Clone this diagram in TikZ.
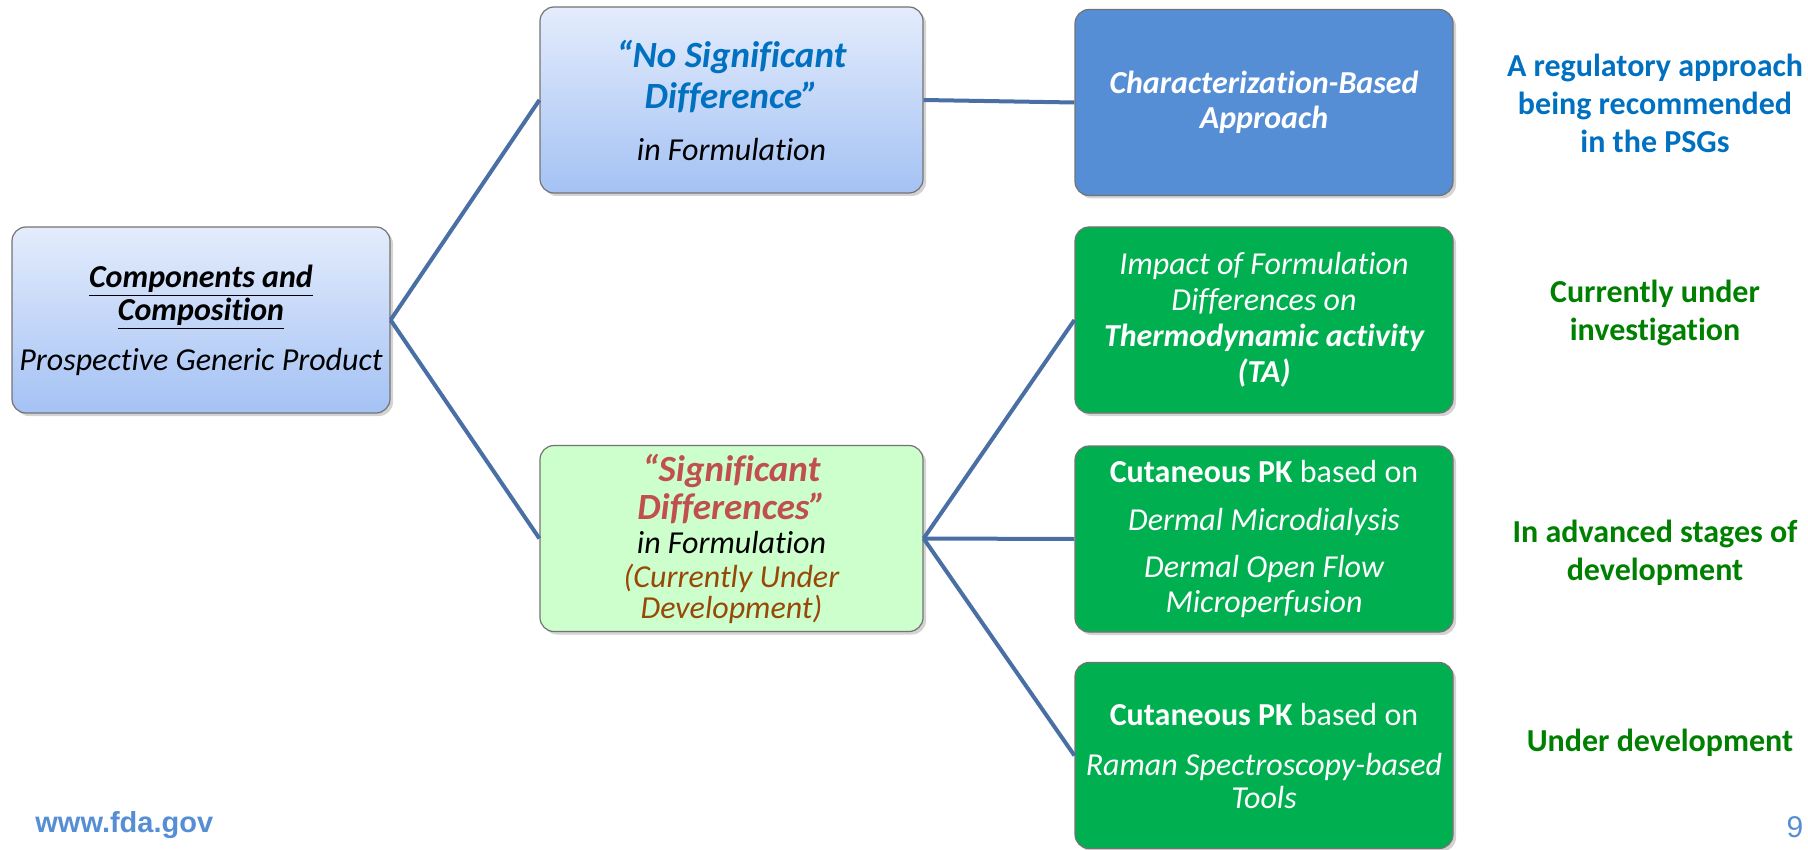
\documentclass[tikz,border=0pt]{standalone}
\usepackage{fontspec}
\setmainfont{Carlito}[Ligatures=CommonOff]
\newfontfamily\webfont{Liberation Sans}
\usetikzlibrary{shadows}
\definecolor{linkblue}{RGB}{74,111,165}
\definecolor{boxtop}{RGB}{228,236,252}
\definecolor{boxbottom}{RGB}{164,194,244}
\definecolor{sigfill}{RGB}{204,255,204}
\definecolor{charfill}{RGB}{85,142,213}
\definecolor{greenfill}{RGB}{0,176,80}
\definecolor{titleblue}{RGB}{0,112,192}
\definecolor{titlered}{RGB}{192,80,77}
\definecolor{brown}{RGB}{152,72,7}
\definecolor{notegreen}{RGB}{0,128,0}
\definecolor{webblue}{RGB}{85,142,213}
\begin{document}
\begin{tikzpicture}[x=0.5pt,y=-0.5pt,
  box/.style={draw=black!55, line width=0.6pt, rounded corners=7pt, minimum width=189pt, minimum height=93pt, align=center, inner sep=2pt,
    drop shadow={shadow xshift=1.5pt, shadow yshift=-1.5pt, opacity=0.35}},
  lightbox/.style={box, top color=boxtop, bottom color=boxbottom},
  midbox/.style={minimum width=191.5pt},
  greenbox/.style={box, fill=greenfill, text=white},
  note/.style={align=center, font=\fontsize{16}{19}\selectfont\bfseries},
  link/.style={draw=linkblue, line width=2pt}]
  \useasboundingbox (0,0) rectangle (1808,850);

  \node[lightbox, font=\fontsize{16}{16.5}\selectfont] (P) at (201,320) {
    {\bfseries\itshape\underline{Components and}}\\
    {\bfseries\itshape\underline{Composition}}\\[8.5pt]
    {\itshape Prospective Generic Product}};

  \node[lightbox, midbox, font=\fontsize{16}{20.5}\selectfont] (N) at (731.5,100) {
    {\fontsize{18.5}{20.5}\selectfont\bfseries\itshape\color{titleblue}“No Significant}\\
    {\fontsize{18.5}{20.5}\selectfont\bfseries\itshape\color{titleblue}Difference”}\\[5.5pt]
    {\itshape in Formulation}};

  \node[box, midbox, fill=sigfill, font=\fontsize{16}{17}\selectfont] (S) at (731.5,538.5) {
    {\fontsize{18.5}{21}\selectfont\bfseries\itshape\color{titlered}“Significant}\\[2pt]
    {\fontsize{18.5}{21}\selectfont\bfseries\itshape\color{titlered}Differences”}\\
    {\itshape in Formulation}\\
    {\itshape\color{brown}(Currently Under}\\[-1.5pt]
    {\itshape\color{brown}Development)}};

  \node[box, fill=charfill, text=white, font=\fontsize{16}{17.5}\selectfont] (CB) at (1264,102.5) {
    {\bfseries\itshape Characterization-Based}\\
    {\bfseries\itshape Approach}};

  \node[greenbox, font=\fontsize{16}{18}\selectfont] (TA) at (1264,320) {
    {\itshape Impact of Formulation}\\
    {\itshape Differences on}\\
    {\bfseries\itshape Thermodynamic activity}\\
    {\bfseries\itshape (TA)}};

  \node[greenbox, font=\fontsize{16}{17.5}\selectfont] (MD) at (1264,539) {
    {\bfseries Cutaneous PK} based on\\[6.5pt]
    {\itshape Dermal Microdialysis}\\[6pt]
    {\itshape Dermal Open Flow}\\
    {\itshape Microperfusion}};

  \node[greenbox, font=\fontsize{16}{16.5}\selectfont] (RS) at (1264,755.5) {
    {\bfseries Cutaneous PK} based on\\[8.5pt]
    {\itshape Raman Spectroscopy-based}\\
    {\itshape Tools}};

  \draw[link] (P.east) -- (N.west);
  \draw[link] (P.east) -- (S.west);
  \draw[link] (N.east) -- (CB.west);
  \draw[link] (S.east) -- (TA.west);
  \draw[link] (S.east) -- (MD.west);
  \draw[link] (S.east) -- (RS.west);

  \node[note, text=titleblue] (L1) at (1655,103) {A regulatory approach\\being recommended\\in the PSGs};
  \node[note, text=notegreen] (L2) at (1655,313) {Currently under\\investigation};
  \node[note, text=notegreen] (L3) at (1655,553) {In advanced stages of\\development};
  \node[note, text=notegreen] (L4) at (1660,743) {Under development};

  \node[anchor=base west, inner sep=0pt, text=webblue, font=\webfont\fontsize{14.5}{17}\selectfont\bfseries] (W) at (35,832) {www.fda.gov};
  \node[anchor=base, inner sep=0pt, text=webblue, font=\webfont\fontsize{15}{17}\selectfont] (PG) at (1795,837) {9};
\end{tikzpicture}
\end{document}
